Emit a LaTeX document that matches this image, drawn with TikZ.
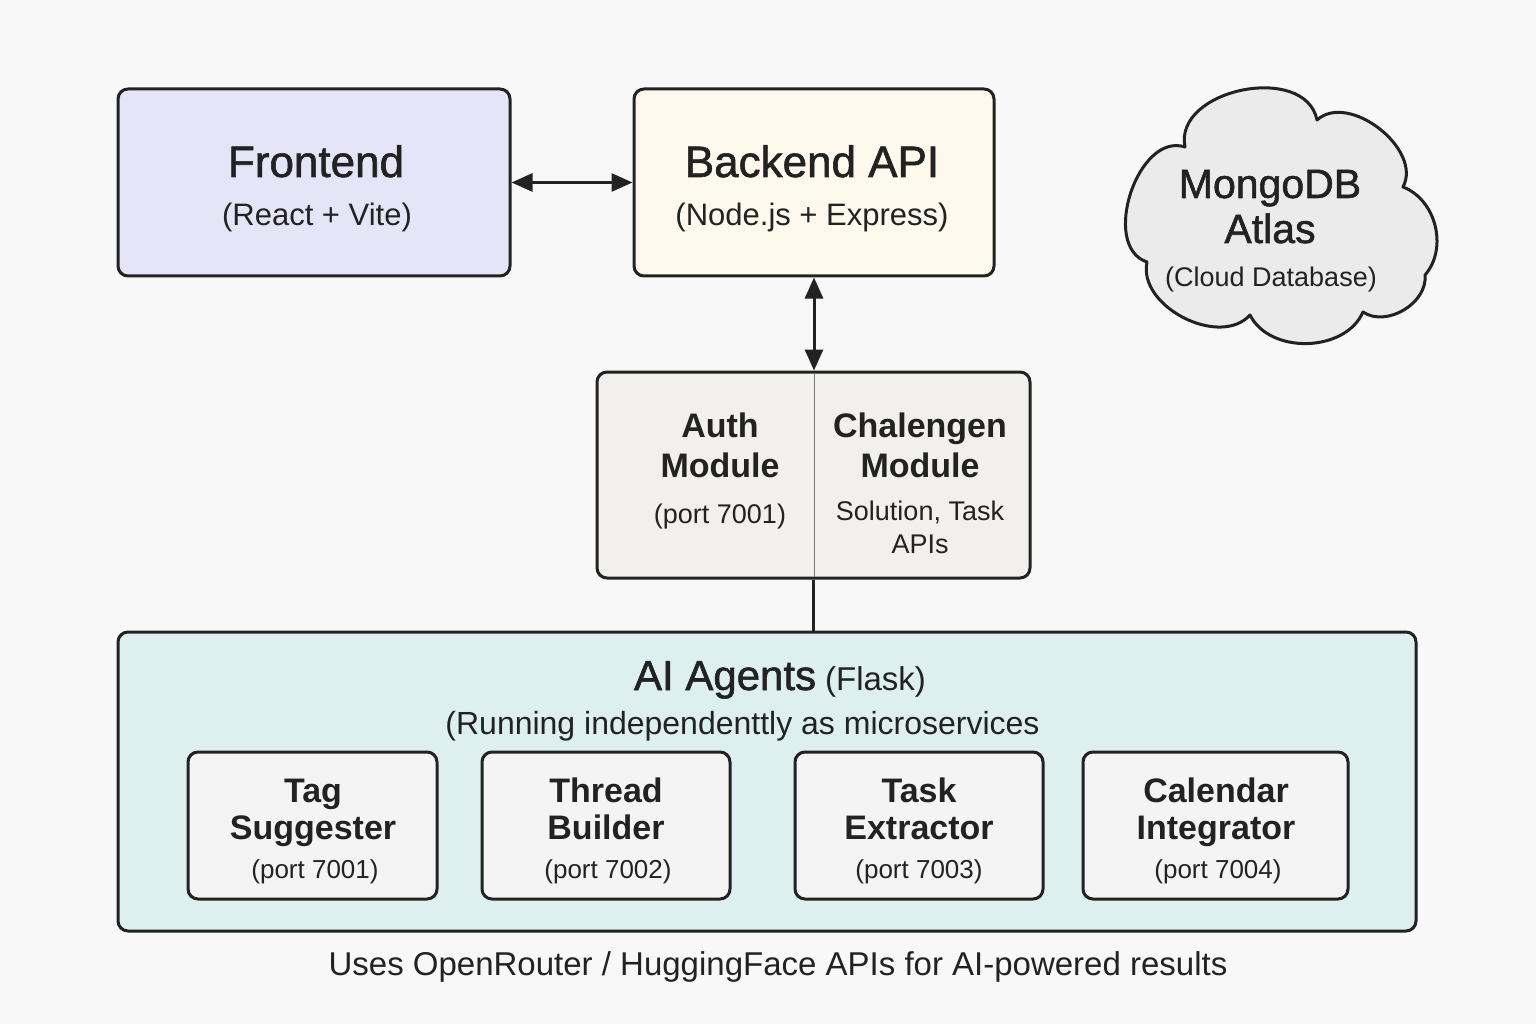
\documentclass[tikz,border=0pt]{standalone}
\usepackage{fontspec}
\setmainfont{Liberation Sans}
\newfontfamily\medfont[BoldFont={Liberation Sans},BoldFeatures={FakeBold=1.3}]{Liberation Sans}
\usetikzlibrary{arrows.meta}
\definecolor{ink}{HTML}{222222}
\definecolor{bgc}{HTML}{F8F8F8}
\definecolor{frontfill}{HTML}{E6E5F8}
\definecolor{backfill}{HTML}{FEF9EC}
\definecolor{cloudfill}{HTML}{EBEBEB}
\definecolor{modfill}{HTML}{F1F0EC}
\definecolor{aifill}{HTML}{DDEFEE}
\definecolor{agentfill}{HTML}{F4F4F4}
\begin{document}
\begin{tikzpicture}[x=1pt,y=-1pt,
  box/.style={draw=ink,line width=3pt,rounded corners=10pt,inner sep=0pt},
  txt/.style={text=ink,anchor=base,inner sep=0pt,align=center},
  bigtxt/.style={txt,font=\medfont\bfseries\fontsize{44}{48}\selectfont},
  subtxt/.style={txt,font=\fontsize{31}{34}\selectfont},
  cloudbig/.style={txt,font=\medfont\bfseries\fontsize{41}{44}\selectfont},
  cloudsub/.style={txt,font=\fontsize{27}{30}\selectfont},
  modtitle/.style={txt,font=\bfseries\fontsize{34}{38}\selectfont},
  modsub/.style={txt,font=\fontsize{27}{30}\selectfont},
  agtitle/.style={txt,font=\bfseries\fontsize{34}{38}\selectfont},
  agsub/.style={txt,font=\fontsize{26}{30}\selectfont},
  arr/.style={draw=ink,line width=3pt,{Triangle[length=21pt,width=18pt]}-{Triangle[length=21pt,width=18pt]}},
  conn/.style={draw=ink,line width=3pt},
  puff/.style 2 args={bend left=#1,looseness=#2},
  cloudline/.style={draw=ink,line width=3pt,fill=cloudfill,line join=round}
]
\useasboundingbox (0,0) rectangle (1536,1024);
\fill[bgc] (0,0) rectangle (1536,1024);

% top boxes
\node[box,fill=frontfill,minimum width=392pt,minimum height=187pt] (front) at (314,182.5) {};
\node[box,fill=backfill,minimum width=360pt,minimum height=187pt] (back) at (814,182.5) {};
\node[bigtxt] (frontT) at (316,177) {Frontend};
\node[subtxt] (frontS) at (317,226) {(React + Vite)};
\node[bigtxt] (backT) at (812,177) {Backend API};
\node[subtxt] (backS) at (812,226) {(Node.js + Express)};

% cloud
\coordinate (c1) at (1185,147);
\coordinate (c2) at (1317,120);
\coordinate (c3) at (1403,187);
\coordinate (c4) at (1425,275);
\coordinate (c5) at (1363,312);
\coordinate (c6) at (1250,315);
\coordinate (c7) at (1147,262);
\path[cloudline] (c1) to[puff={90}{1.12}] (c2) to[puff={80}{1}] (c3) to[puff={55}{1}] (c4)
  to[puff={65}{1}] (c5) to[puff={65}{1}] (c6) to[puff={75}{1}] (c7) to[puff={90}{1.05}] (c1) -- cycle;
\node[cloudbig] (mongoT1) at (1270,198) {MongoDB};
\node[cloudbig] (mongoT2) at (1270,243) {Atlas};
\node[cloudsub] (mongoS) at (1271,287) {(Cloud Database)};

% module box
\node[box,fill=modfill,minimum width=433pt,minimum height=206pt] (mod) at (813.5,475) {};
\draw[draw=ink!60,line width=0.8pt] (814,373.5) -- (814,576.5);
\node[modtitle] (authT1) at (720,437) {Auth};
\node[modtitle] (authT2) at (720,477) {Module};
\node[modsub] (authS) at (720,523) {(port 7001)};
\node[modtitle] (chalT1) at (920,437) {Chalengen};
\node[modtitle] (chalT2) at (920,477) {Module};
\node[modsub] (chalS1) at (920,520) {Solution, Task};
\node[modsub] (chalS2) at (920,553) {APIs};

% AI agents box
\node[box,fill=aifill,minimum width=1298pt,minimum height=299pt] (ai) at (767,781.5) {};
\node[txt] (aiT) at (780,690) {{\medfont\bfseries\fontsize{42}{46}\selectfont AI Agents}\hspace{9pt}{\fontsize{33}{36}\selectfont(Flask)}};
\node[txt,font=\fontsize{32}{36}\selectfont] (aiS) at (742.5,734) {(Running independenttly as microservices};

\node[box,fill=agentfill,minimum width=249pt,minimum height=147pt] (tag) at (312.5,825.5) {};
\node[box,fill=agentfill,minimum width=248pt,minimum height=147pt] (thread) at (606,825.5) {};
\node[box,fill=agentfill,minimum width=248pt,minimum height=147pt] (task) at (919,825.5) {};
\node[box,fill=agentfill,minimum width=265pt,minimum height=147pt] (cal) at (1215.5,825.5) {};

\node[agtitle] (tagT1) at (313,802) {Tag};
\node[agtitle] (tagT2) at (313,839) {Suggester};
\node[agsub] (tagS) at (315,878) {(port 7001)};
\node[agtitle] (threadT1) at (606,802) {Thread};
\node[agtitle] (threadT2) at (606,839) {Builder};
\node[agsub] (threadS) at (608,878) {(port 7002)};
\node[agtitle] (taskT1) at (919,802) {Task};
\node[agtitle] (taskT2) at (919,839) {Extractor};
\node[agsub] (taskS) at (919,878) {(port 7003)};
\node[agtitle] (calT1) at (1216,802) {Calendar};
\node[agtitle] (calT2) at (1216,839) {Integrator};
\node[agsub] (calS) at (1218,878) {(port 7004)};

\node[txt,font=\fontsize{33}{36}\selectfont] (foot) at (778,975) {Uses OpenRouter / HuggingFace APIs for AI-powered results};

% connectors
\draw[arr] (front.east) -- (back.west);
\draw[arr] (back.south) -- (back.south |- mod.north);
\draw[conn] (mod.south) -- (mod.south |- ai.north);
\end{tikzpicture}
\end{document}
